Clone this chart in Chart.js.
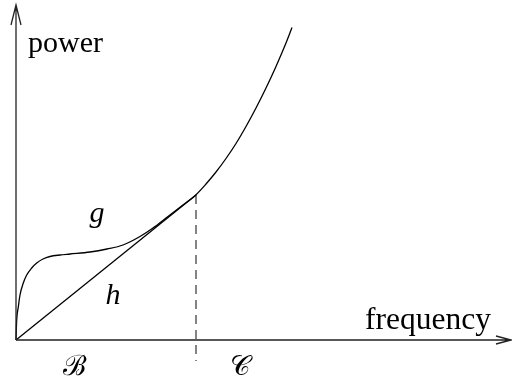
<!DOCTYPE html>
<html lang="en">
<head>
    <meta charset="UTF-8">
    <title>Power vs frequency</title>
    <script src="https://cdn.jsdelivr.net/npm/chart.js"></script>
    <style>
        body { margin: 0; background: #fff; }
        #wrap { width: 512px; height: 381px; }
    </style>
</head>
<body>
    <div id="wrap"><canvas id="chart"></canvas></div>
    <script>
        // curve g: frequency vs power
        const gFreq  = [0, 0.7, 2.3, 4, 7.3, 10.7, 15.7, 20.7, 27, 34, 44, 54, 74, 91, 107, 124, 137, 150, 165, 180, 190, 200, 210, 220, 230, 240, 250, 260, 270, 276];
        const gPower = [0, 20, 33, 45, 57, 65, 72, 77, 81, 83.5, 85, 86, 88, 91, 95, 103.5, 112, 122, 133.5, 145.3, 156, 168, 181.5, 196.5, 213.5, 232, 252, 273.6, 297, 312.5];
        // line h
        const hFreq  = [0, 180];
        const hPower = [0, 145];
        // split between B and C
        const splitFreq = 180;
        const splitPower = [145, -21];
        const axisMax = { x: 495, y: 335 };

        const labels = [
            { text: 'power', x: 12, y: 288, font: '30px "Liberation Serif"', align: 'left' },
            { text: 'frequency', x: 349, y: 11, font: '31.5px "Liberation Serif"', align: 'left' },
            { text: 'g', x: 81, y: 118, font: 'italic 30px "Liberation Serif"', align: 'center' },
            { text: 'h', x: 97, y: 36, font: 'italic 30px "Liberation Serif"', align: 'center' },
            { text: 'ℬ', x: 58, y: -35, font: '28px "DejaVu Serif"', align: 'center' },
            { text: '𝒞', x: 224, y: -35, font: '28px "DejaVu Serif"', align: 'center' }
        ];

        const pts = (xs, ys) => xs.map((x, i) => ({ x: x, y: ys[i] }));

        const decor = {
            id: 'decor',
            afterDatasetsDraw(chart) {
                const ctx = chart.ctx;
                const sx = chart.scales.x, sy = chart.scales.y;
                const ox = sx.getPixelForValue(0), oy = sy.getPixelForValue(0);
                const tx = sx.getPixelForValue(axisMax.x), ty = sy.getPixelForValue(axisMax.y);
                ctx.save();
                ctx.strokeStyle = '#222';
                ctx.lineWidth = 1.3;
                ctx.beginPath();
                ctx.moveTo(ox, oy); ctx.lineTo(ox, ty);
                ctx.moveTo(ox - 5, ty + 20); ctx.lineTo(ox, ty); ctx.lineTo(ox + 5, ty + 20);
                ctx.moveTo(ox, oy); ctx.lineTo(tx, oy);
                ctx.moveTo(tx - 15, oy - 4); ctx.lineTo(tx, oy); ctx.lineTo(tx - 15, oy + 4);
                ctx.stroke();
                ctx.fillStyle = '#000';
                ctx.textBaseline = 'alphabetic';
                labels.forEach(l => {
                    ctx.font = l.font;
                    ctx.textAlign = l.align;
                    ctx.fillText(l.text, sx.getPixelForValue(l.x), sy.getPixelForValue(l.y));
                });
                ctx.restore();
            }
        };

        new Chart(document.getElementById('chart'), {
            type: 'scatter',
            data: {
                datasets: [
                    { data: pts(gFreq, gPower), showLine: true, borderColor: '#000', borderWidth: 1.3, pointRadius: 0, cubicInterpolationMode: 'monotone' },
                    { data: pts(hFreq, hPower), showLine: true, borderColor: '#000', borderWidth: 1.3, pointRadius: 0 },
                    { data: pts([splitFreq, splitFreq], splitPower), showLine: true, borderColor: '#333', borderWidth: 1.2, borderDash: [9, 6], pointRadius: 0 }
                ]
            },
            options: {
                responsive: true,
                maintainAspectRatio: false,
                animation: false,
                layout: { padding: 0 },
                plugins: { legend: { display: false }, tooltip: { enabled: false } },
                scales: {
                    x: { type: 'linear', min: -16, max: 496, display: false },
                    y: { type: 'linear', min: -41, max: 340, display: false }
                }
            },
            plugins: [decor]
        });
    </script>
</body>
</html>
